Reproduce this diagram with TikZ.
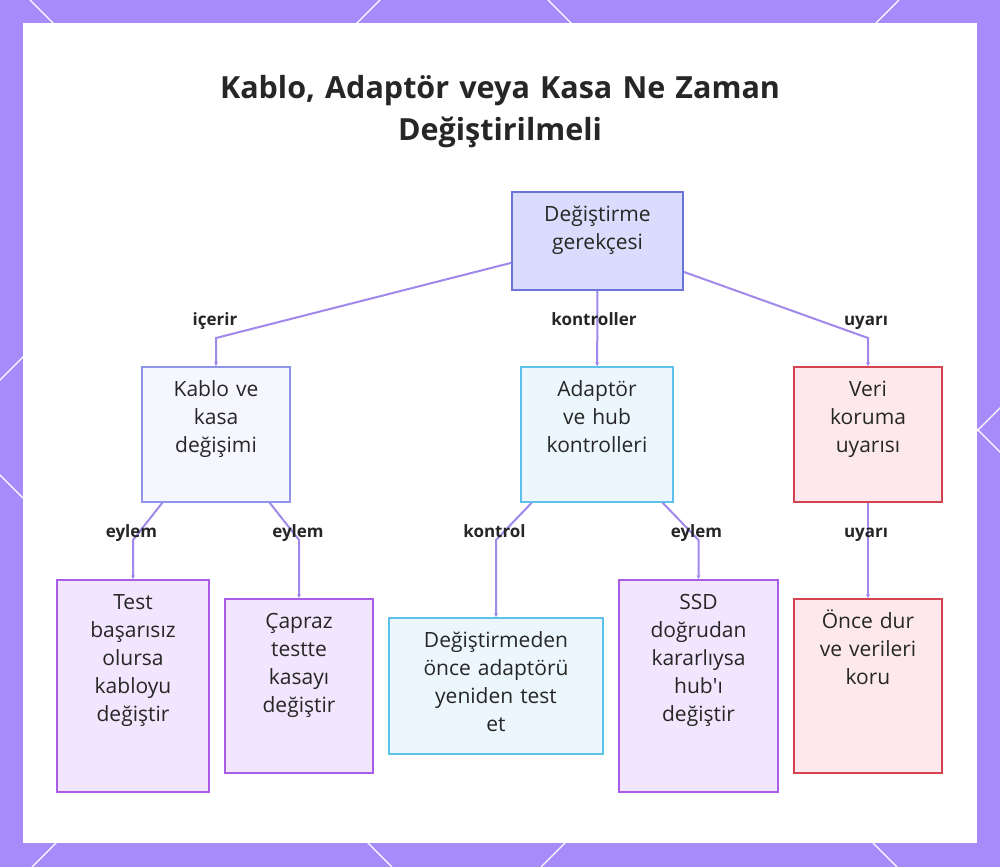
\documentclass[tikz,border=0pt]{standalone}
\usepackage{fontspec}
\setmainfont{Open Sans}
\usetikzlibrary{positioning,arrows.meta}

\definecolor{bgpurple}{HTML}{A78BFA}
\definecolor{linkc}{HTML}{A088EC}
\definecolor{inkc}{HTML}{262626}
\definecolor{rootfill}{HTML}{D9DCFC}
\definecolor{rootline}{HTML}{6C74D8}
\definecolor{bluefill}{HTML}{F5F6FE}
\definecolor{blueline}{HTML}{8E95E8}
\definecolor{cyanfill}{HTML}{EBF7FD}
\definecolor{cyanline}{HTML}{5BC3EB}
\definecolor{redfill}{HTML}{FDE9EC}
\definecolor{redline}{HTML}{D2434F}
\definecolor{violetfill}{HTML}{F1E6FD}
\definecolor{violetline}{HTML}{A95CE6}
\newcommand{\straightapos}{\XeTeXglyph\XeTeXglyphindex"quotesingle"\relax}

\begin{document}
\begin{tikzpicture}[x=1pt,y=-1pt,>={Stealth[length=4pt,width=4pt]}]
\tikzstyle{box}=[draw,line width=1.6pt,inner sep=0pt]
\tikzstyle{rootbox}=[box,fill=rootfill,draw=rootline]
\tikzstyle{bluebox}=[box,fill=bluefill,draw=blueline]
\tikzstyle{cyanbox}=[box,fill=cyanfill,draw=cyanline]
\tikzstyle{redbox}=[box,fill=redfill,draw=redline]
\tikzstyle{violetbox}=[box,fill=violetfill,draw=violetline]
\tikzstyle{txt}=[anchor=base,align=center,text width=140pt,inner sep=0pt,text=inkc,font=\fontsize{21}{28}\selectfont]
\tikzstyle{lbl}=[anchor=base,inner sep=0pt,text=inkc,font=\bfseries\fontsize{17}{20}\selectfont]
\tikzstyle{link}=[->,draw=linkc,line width=2pt]

\useasboundingbox (0,0) rectangle (1000,867);
\fill[bgpurple] (0,0) rectangle (1000,867);
% diamond lattice in the frame
\begin{scope}
\clip (0,0) rectangle (1000,867);
\foreach \c in {-475,30,548} \draw[white,line width=1.3pt] (\c,0) -- ++(867,867);
\foreach \c in {380,899,1408} \draw[white,line width=1.3pt] (\c,0) -- ++(-867,867);
\end{scope}
\fill[white] (23,23) rectangle (977,843);

\node[anchor=base,align=center,text width=800pt,inner sep=0pt,text=inkc,font=\bfseries\fontsize{30.5}{42}\selectfont] (title) at (500,98) {Kablo, Adaptör veya Kasa Ne Zaman\\Değiştirilmeli};

% boxes
\node[rootbox,minimum width=171,minimum height=98] (root) at (597.5,241) {};
\node[bluebox,minimum width=148,minimum height=135] (kablo) at (216,434.5) {};
\node[cyanbox,minimum width=152,minimum height=135] (adaptor) at (597,434.5) {};
\node[redbox,minimum width=148,minimum height=135] (veri) at (868,434.5) {};
\node[violetbox,minimum width=152,minimum height=212] (test) at (133,686) {};
\node[violetbox,minimum width=148,minimum height=174] (capraz) at (299,686) {};
\node[cyanbox,minimum width=214,minimum height=136] (retest) at (496,686) {};
\node[violetbox,minimum width=159,minimum height=212] (ssd) at (698.5,686) {};
\node[redbox,minimum width=148,minimum height=174] (once) at (868,686) {};

% bends
\coordinate (c1) at (216,338);
\coordinate (c2) at (868,338);
\coordinate (c3) at (133,540);
\coordinate (c4) at (299,540);
\coordinate (c5) at (496,540);
\coordinate (c6) at (698.5,540);

\draw[link] (root) -- (c1) -- (kablo);
\draw[link] (root) -- (adaptor);
\draw[link] (root) -- (c2) -- (veri);
\draw[link] (kablo) -- (c3) -- (test);
\draw[link] (kablo) -- (c4) -- (capraz);
\draw[link] (adaptor) -- (c5) -- (retest);
\draw[link] (adaptor) -- (c6) -- (ssd);
\draw[link] (veri) -- (once);

% edge labels
\node[lbl] (l1) at (215,325) {içerir};
\node[lbl] (l2) at (594,325) {kontroller};
\node[lbl] (l3) at (866,325) {uyarı};
\node[lbl] (l4) at (131.5,537) {eylem};
\node[lbl] (l5) at (298,537) {eylem};
\node[lbl] (l6) at (494.5,537) {kontrol};
\node[lbl] (l7) at (696.5,537) {eylem};
\node[lbl] (l8) at (866,537) {uyarı};

% box texts
\node[txt] (roottxt) at ([yshift=-30pt]root.north) {Değiştirme\\gerekçesi};
\node[txt] (kablotxt) at ([yshift=-30pt]kablo.north) {Kablo ve\\kasa\\değişimi};
\node[txt] (adaptortxt) at ([yshift=-30pt]adaptor.north) {Adaptör\\ve hub\\kontrolleri};
\node[txt] (veritxt) at ([yshift=-30pt]veri.north) {Veri\\koruma\\uyarısı};
\node[txt] (testtxt) at ([yshift=-30pt]test.north) {Test\\başarısız\\olursa\\kabloyu\\değiştir};
\node[txt] (capraztxt) at ([yshift=-30pt]capraz.north) {Çapraz\\testte\\kasayı\\değiştir};
\node[txt,text width=200pt] (retesttxt) at ([yshift=-30pt]retest.north) {Değiştirmeden\\önce adaptörü\\yeniden test\\et};
\node[txt] (ssdtxt) at ([yshift=-30pt]ssd.north) {SSD\\doğrudan\\kararlıysa\\hub\straightapos ı\\değiştir};
\node[txt] (oncetxt) at ([yshift=-30pt]once.north) {Önce dur\\ve verileri\\koru};
\end{tikzpicture}
\end{document}
